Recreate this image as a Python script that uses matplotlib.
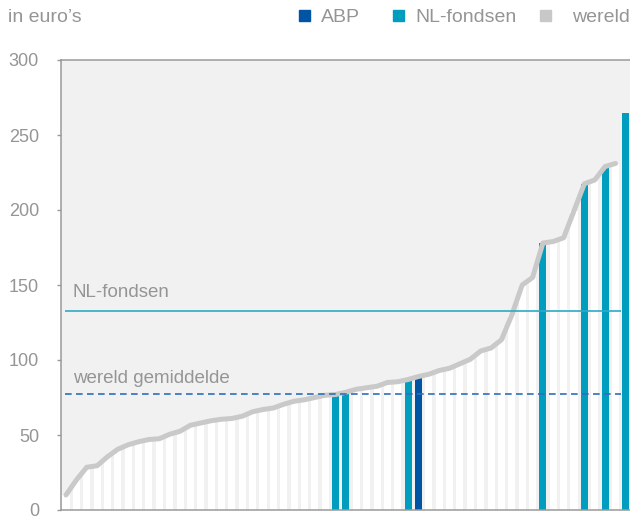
import matplotlib.pyplot as plt
from matplotlib.patches import Rectangle

# costs per fund in euro's, sorted low to high
fund_values = [10, 20, 28.5, 29.5, 35.5, 40.5, 43.5, 45.5, 47, 47.5,
               50.5, 52.5, 56.5, 58, 59.5, 60.5, 61, 62.5, 65.5, 67,
               68, 70.5, 72.5, 73.5, 75, 76.5, 77, 78.5, 80.5, 81.5,
               82.5, 85, 85.5, 87, 89, 90.5, 93, 94.5, 97.5, 100.5,
               106, 108, 113.5, 130, 150, 155, 178, 179, 181.5, 199.5,
               217.5, 220, 229, 231, 265]
nl_funds = [26, 27, 33, 46, 50, 52, 54]
abp_fund = [34]
# the world curve stops before the last (most expensive) Dutch fund
world_count = 54

world_avg = 77.5
nl_avg = 133

yticks = [0, 50, 100, 150, 200, 250, 300]

BG = '#f0f1f0'
GREY_TXT = '#959595'
TEAL = '#009dbf'
ABP_BLUE = '#0054a4'
LINE_GREY = '#c9c9c9'
FONT = 'Liberation Sans'

plt.rcParams['font.family'] = FONT

fig = plt.figure(figsize=(6.3, 5.18), dpi=100)
ax = fig.add_axes([60.5 / 630, 8 / 518, 569.5 / 630, 450 / 518])
ax.set_facecolor(BG)

x = list(range(len(fund_values)))
colors = []
for i in x:
    if i in abp_fund:
        colors.append(ABP_BLUE)
    elif i in nl_funds:
        colors.append(TEAL)
    else:
        colors.append('white')
ax.bar(x, fund_values, width=0.68, color=colors, linewidth=0, zorder=2)

ax.plot(x[:world_count], fund_values[:world_count], color=LINE_GREY,
        lw=3.6, solid_joinstyle='round', solid_capstyle='round', zorder=3)

# averages
ax.hlines(nl_avg, -0.1, 53.5, color='#2fa9c7', lw=1.2, zorder=4)
ax.hlines(world_avg, -0.1, 53.5, color='#2f6fba', lw=1.2,
          linestyles=(0, (4, 2.6)), zorder=4)
ax.text(0.65, nl_avg + 9, 'NL-fondsen', color=GREY_TXT, fontsize=13.5,
        va='baseline', ha='left')
ax.text(0.65, world_avg + 7, 'wereld gemiddelde', color=GREY_TXT,
        fontsize=13.5, va='baseline', ha='left')

ax.set_xlim(-0.53, 54.4)
ax.set_ylim(0, 300)
ax.set_yticks(yticks)
ax.set_xticks([])
ax.tick_params(axis='y', colors='#999999', labelcolor=GREY_TXT,
               labelsize=13, length=3, width=1, pad=12.5)
for side in ['left', 'top', 'bottom']:
    ax.spines[side].set_color('#9a9a9a')
    ax.spines[side].set_linewidth(1.1)
ax.spines['right'].set_visible(False)

# header: unit and legend
fig.text(8 / 630, 1 - 18 / 518, 'in euro\u2019s', color=GREY_TXT,
         fontsize=14, va='center', ha='left')
legend_items = [(299, 321, ABP_BLUE, 'ABP'),
                (393, 415, TEAL, 'NL-fondsen'),
                (540, 572, '#c8c8c8', 'wereld')]
for sq_x, txt_x, col, label in legend_items:
    fig.patches.append(Rectangle((sq_x / 630, 1 - 20.5 / 518), 11 / 630,
                                 11 / 518, transform=fig.transFigure,
                                 color=col, figure=fig))
    fig.text(txt_x / 630, 1 - 18 / 518, label, color=GREY_TXT, fontsize=14,
             va='center', ha='left')

fig.savefig('out.png', dpi=100)
